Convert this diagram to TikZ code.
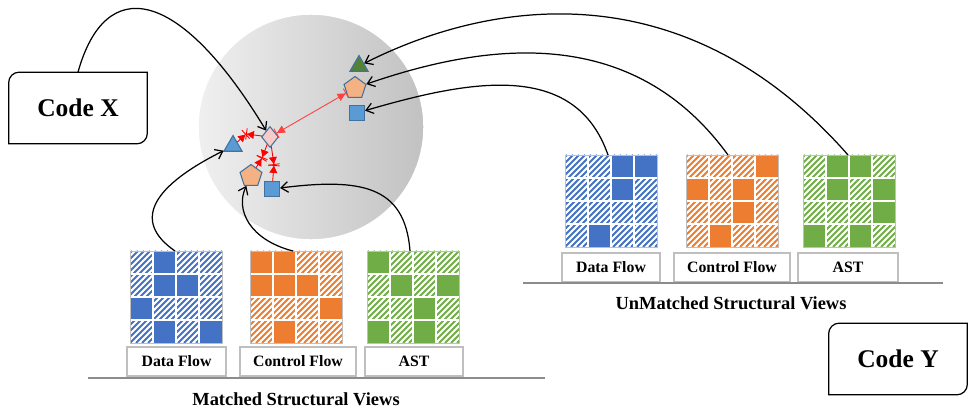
\documentclass[tikz,border=0pt]{standalone}
\usepackage{fontspec}
\setmainfont{Liberation Serif}
\usetikzlibrary{arrows.meta,shapes.geometric}

\definecolor{dfblue}{HTML}{4472C4}
\definecolor{cforange}{HTML}{ED7D31}
\definecolor{astgreen}{HTML}{70AD47}
\definecolor{ptblue}{HTML}{5B9BD5}
\definecolor{ptedge}{HTML}{41719C}
\definecolor{ptorange}{HTML}{F4B183}
\definecolor{ptgreen}{HTML}{548235}
\definecolor{ptpink}{HTML}{F8CBCB}
\definecolor{boxgray}{HTML}{BFBFBF}

% 4x4 structural view: left, top, colour, solid cells (col/row)
\newcommand{\viewgrid}[4]{%
  \begin{scope}
    \clip (#1,#2) rectangle ++(92,92);
    \foreach \s in {-96,-90,...,96}
      \draw[#3, line width=1.1pt] (#1+\s,#2+92) -- ++(92,-92);
  \end{scope}
  \foreach \gc/\gr in {#4}
    \fill[#3] (#1+23*\gc,#2+23*\gr) rectangle ++(23,23);
  \foreach \i in {1,2,3} {
    \draw[white, line width=1.2pt] (#1+23*\i,#2) -- ++(0,92);
    \draw[white, line width=1.2pt] (#1,#2+23*\i) -- ++(92,0);
  }
  \draw[black!25, line width=0.5pt] (#1,#2) rectangle ++(92,92);
}

\begin{document}
\begin{tikzpicture}[x=0.02cm, y=-0.02cm,
    codebox/.style={fill=white, minimum width=2.76cm, minimum height=1.42cm, font=\fontsize{14.5}{16}\selectfont\bfseries},
    viewlabel/.style={draw=boxgray, line width=0.8pt, fill=white, minimum height=0.58cm, font=\fontsize{9}{10}\selectfont\bfseries},
    caption/.style={font=\fontsize{10.5}{12}\selectfont\bfseries},
    emb/.style={draw=ptedge, line width=0.6pt, inner sep=0pt},
    flow/.style={black, line width=0.7pt, -{Straight Barb[length=4pt,width=6pt]}},
    pull/.style={red, line width=0.5pt, -{Triangle[length=4pt,width=4.5pt]Bar[width=6.5pt]}},
    push/.style={red!75, line width=0.5pt, {Bar[width=6pt]Triangle[length=4.5pt,width=4.5pt]}-{Triangle[length=4.5pt,width=4.5pt]Bar[width=6pt]}}]

    \useasboundingbox (0,0) rectangle (972,411);

    % embedding space
    \node[circle, minimum size=4.52cm, left color=black!6, right color=black!24, draw=white, line width=0.8pt] (space) at (311,127) {};

    \node[emb, regular polygon, regular polygon sides=3, fill=ptgreen, minimum size=0.42cm] (utri) at (359,66) {};
    \node[emb, regular polygon, regular polygon sides=5, fill=ptorange, minimum size=0.46cm] (upent) at (355,88) {};
    \node[emb, rectangle, fill=ptblue, minimum size=0.3cm] (usq) at (357,113) {};
    \node[emb, diamond, fill=ptpink, minimum width=0.34cm, minimum height=0.42cm] (dia) at (270,137) {};
    \node[emb, regular polygon, regular polygon sides=3, fill=ptblue, minimum size=0.42cm] (mtri) at (233,146) {};
    \node[emb, regular polygon, regular polygon sides=5, fill=ptorange, minimum size=0.46cm] (mpent) at (251,176) {};
    \node[emb, rectangle, fill=ptblue, minimum size=0.3cm] (msq) at (272,189) {};

    \coordinate (p1) at (246,134);
    \coordinate (p2) at (262,158);
    \coordinate (p3) at (274,165);
    \draw[pull] (mtri) -- (p1);
    \draw[pull] (dia) -- (p1);
    \draw[pull] (dia) -- (p2);
    \draw[pull] (mpent) -- (p2);
    \draw[pull] (dia) -- (p3);
    \draw[pull] (msq) -- (p3);
    \draw[push] (dia) -- (upent);

    % code boxes
    \node[codebox] (cx) at (78,108) {Code X};
    \draw[rounded corners=6pt, line width=0.7pt, line cap=rect] (cx.south west) -- (cx.north west) -- (cx.north east) (cx.north east) -- (cx.south east) -- (cx.south west);
    \node[codebox] (cy) at (898,359) {Code Y};
    \draw[rounded corners=6pt, line width=0.7pt, line cap=rect] (cy.south west) -- (cy.north west) -- (cy.north east) (cy.north east) -- (cy.south east) -- (cy.south west);

    % matched views
    \viewgrid{130}{251}{dfblue}{1/0,1/1,2/1,0/2,1/3,3/3}
    \viewgrid{250}{251}{cforange}{0/0,1/0,0/1,1/1,2/1,3/2,1/3}
    \viewgrid{367}{251}{astgreen}{0/0,1/1,3/1,2/2,0/3,2/3}
    \node[viewlabel, minimum width=1.98cm] (mdfl) at (176.5,361.5) {Data Flow};
    \node[viewlabel, minimum width=2.32cm] (mcfl) at (298,361.5) {Control Flow};
    \node[viewlabel, minimum width=1.96cm] (mastl) at (414,361.5) {AST};
    \draw[black!45, line width=0.8pt] (88,378) -- (545,378);
    \node[caption] (mcap) at (296,399) {Matched Structural Views};

    % unmatched views
    \viewgrid{565}{155}{dfblue}{2/0,3/0,2/1,1/3}
    \viewgrid{686}{155}{cforange}{3/0,0/1,2/1,2/2,1/3}
    \viewgrid{803}{155}{astgreen}{1/0,2/0,1/1,3/1,3/2,0/3,2/3}
    \node[viewlabel, minimum width=1.96cm] (udfl) at (611,267.5) {Data Flow};
    \node[viewlabel, minimum width=2.32cm] (ucfl) at (732,267.5) {Control Flow};
    \node[viewlabel, minimum width=2.0cm] (uastl) at (848,267.5) {AST};
    \draw[black!45, line width=0.8pt] (523,283) -- (943,283);
    \node[caption] (ucap) at (731,303) {UnMatched Structural Views};

    \coordinate (mdf) at (175,251);
    \coordinate (mcf) at (293,251);
    \coordinate (mast) at (410,251);
    \coordinate (udf) at (608,155);
    \coordinate (ucf) at (728,155);
    \coordinate (uast) at (848,155);

    \draw[flow] (cx.north) .. controls (105,-25) and (178,-15) .. (dia);
    \draw[flow] (mdf) .. controls (130,220) and (155,185) .. (mtri);
    \draw[flow] (mcf) .. controls (250,240) and (235,210) .. (mpent);
    \draw[flow] (mast) .. controls (405,185) and (360,178) .. (msq);
    \draw[flow] (uast) .. controls (690,-25) and (500,-5) .. (utri);
    \draw[flow] (ucf) .. controls (630,20) and (480,45) .. (upent);
    \draw[flow] (udf) .. controls (575,60) and (470,80) .. (usq);
\end{tikzpicture}
\end{document}
